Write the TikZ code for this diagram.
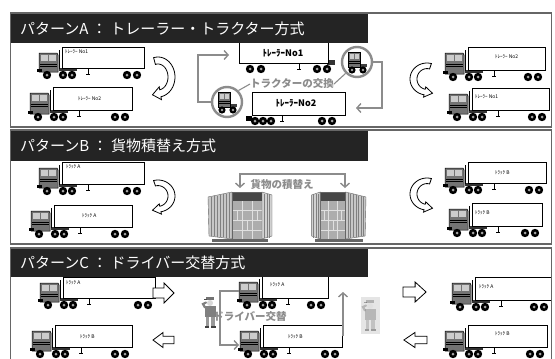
\documentclass[tikz,border=0pt]{standalone}
\usepackage{fontspec}
\newfontfamily\jp{Noto Sans CJK JP}
\usetikzlibrary{arrows.meta,calc}

\tikzset{
  panel/.style={draw=black!60, line width=1.8pt},
  headbar/.style={fill=black!86},
  title/.style={text=white, font=\jp\fontsize{15}{17}\selectfont, anchor=west, inner sep=0},
  box/.style={draw=black, fill=white, line width=0.6pt, inner sep=0, anchor=north west},
  tag/.style={font=\jp\fontsize{5}{6}\selectfont, inner sep=0},
  bigtag/.style={font=\jp\bfseries\fontsize{9}{10}\selectfont, inner sep=0},
  note/.style={text=black!45, font=\jp\bfseries\fontsize{10.5}{12}\selectfont, inner sep=0},
  link/.style={draw=black!45, line width=1.4pt},
  linkarrow/.style={link, -{Straight Barb[length=4pt,width=9pt,line width=1.4pt]}},
  hollow/.style={draw=black, fill=white, line width=0.8pt, line join=miter},
  ring/.style={draw=black!45, line width=2.4pt, circle, minimum size=30pt, inner sep=0},
  cab/.style={fill=black!55, draw=black, line width=0.5pt},
}

% one wheel with its hub
\newcommand\wheelat[2]{\fill[black] (#1,#2) circle (4.2); \fill[black!35] (#1,#2) circle (1.5);}

% tractor-trailer: name, x, y (trailer top-left), width, height, tag, tag offset
\newcommand\rig[7]{%
  \begin{scope}[shift={(#2,#3)}]
    \fill[black!80] (-3,#5) rectangle (15,#5+3);
    \filldraw[cab] (-23,6) -- (-5,6) -- (-4,8) -- (-4,#5+4) -- (-23,#5+4) -- cycle;
    \fill[black!20] (-21.5,8) rectangle (-14.5,14);
    \fill[black!20] (-13,8) rectangle (-6,14);
    \draw[black, line width=0.4pt] (-22,17) -- (-5,17) (-22,19.5) -- (-5,19.5);
    \fill[black] (-25,#5+1) rectangle (-20,#5+4);
    \draw[black, line width=0.9pt] (-2.5,3) -- (-2.5,#5+1);
    \draw[black, line width=0.7pt] (26,#5) -- (26,#5+6) (24,#5+6) -- (28,#5+6);
    \wheelat{-15}{#5+7}
    \wheelat{1}{#5+7}
    \wheelat{10}{#5+7}
    \wheelat{#4-17}{#5+7}
    \wheelat{#4-7}{#5+7}
  \end{scope}
  \node[box, minimum width=#4pt, minimum height=#5pt] (#1) at (#2,#3) {};
  \path (#2,#3) ++(-23,#5/2+4) coordinate (#1-cab);
  \path (#2,#3) ++(#7) node[tag, anchor=west] (#1-t) {#6};
}

% tractor unit alone (shown inside the rings)
\newcommand\tractoricon[2]{%
  \begin{scope}[shift={(#1,#2)}]
    \fill[black!75] (2,2) rectangle (10,5);
    \filldraw[cab] (-9,-10) rectangle (3,5);
    \fill[black!20] (-7.5,-8.5) rectangle (-3,-3.5);
    \fill[black!20] (-2,-8.5) rectangle (1.5,-3.5);
    \draw[black, line width=0.4pt] (-8.5,-1) -- (2.5,-1) (-8.5,1.5) -- (2.5,1.5);
    \fill[black] (-5,8) circle (3.6); \fill[black!35] (-5,8) circle (1.3);
    \fill[black] (6,8) circle (3.6); \fill[black!35] (6,8) circle (1.3);
  \end{scope}}

% curved hollow arrow: centre x, centre y, xscale, yscale
\newcommand\swing[4]{%
  \begin{scope}[shift={(#1,#2)}, xscale=#3, yscale=#4]
    \filldraw[hollow] plot[domain=-105:80, samples=30] ({17*cos(\x)},{20*sin(\x)})
      -- (80:20 and 23) -- (-5.5,17.8) -- (80:7 and 10)
      -- plot[domain=80:-105, samples=30] ({10*cos(\x)},{13*sin(\x)}) -- cycle;
  \end{scope}}

% straight hollow arrow: tail x, centre y, xscale, yscale
\newcommand\blockarrow[4]{%
  \begin{scope}[shift={(#1,#2)}, xscale=#3, yscale=#4]
    \filldraw[hollow] (0,-5) -- (11,-5) -- (11,-10) -- (21,0) -- (11,10) -- (11,5) -- (0,5) -- cycle;
  \end{scope}}

% open container with stacked cargo: x, y, xscale
\newcommand\cargo[3]{%
  \begin{scope}[shift={(#1,#2)}, xscale=#3]
    \filldraw[fill=black!22, draw=black!60, line width=0.4pt] (0,5) -- (24,0) -- (24,47) -- (1,44) -- cycle;
    \foreach \s in {3,6,...,21} \draw[black!50, line width=0.5pt] (\s,{5-\s*5/24+0.6}) -- (\s,{44+\s*3/24-0.6});
    \fill[black!72] (24,0) rectangle (54,9);
    \fill[black!32] (24,9) rectangle (54,47);
    \draw[black!12, line width=0.6pt] (24,18) -- (54,18) (24,28) -- (54,28) (24,38) -- (54,38)
      (34,9) -- (34,47) (44,9) -- (44,47) (29,18) -- (29,28) (39,28) -- (39,38) (49,18) -- (49,28);
    \draw[black!60, line width=0.6pt] (24,0) rectangle (54,47);
    \filldraw[fill=black!18, draw=black!60, line width=0.4pt] (54,0) -- (64,3) -- (64,44) -- (54,47) -- cycle;
    \foreach \s in {56.5,59,61.5} \draw[black!50, line width=0.5pt] (\s,1.5) -- (\s,45.5);
    \fill[black!60] (4,47) rectangle (60,50);
  \end{scope}}

% standing worker: x, y (top centre)
\newcommand\worker[2]{%
  \begin{scope}[shift={(#1,#2)}]
    \fill[black!55] (-4.5,0) rectangle (4,3.2);
    \fill[black!70] (-6,2.4) rectangle (-3,3.4);
    \fill[black!15] (0,6) circle (3);
    \fill[black!50] (-5.5,9) rectangle (5.5,19.5);
    \draw[black!50, line width=2.2pt, line cap=round] (-5,10.5) -- (-7,7) -- (-4,5.5);
    \fill[black!40] (-4.5,19.5) rectangle (-0.6,29);
    \fill[black!40] (0.6,19.5) rectangle (4.5,29);
    \fill[black!75] (-5.5,29) rectangle (-0.6,31);
    \fill[black!75] (0.6,29) rectangle (5.5,31);
  \end{scope}}

\begin{document}
\begin{tikzpicture}[x=1pt,y=-1pt]
\useasboundingbox (0,0) rectangle (555,359);
\fill[white] (0,0) rectangle (555,359);

% ---------- pattern A: trailer / tractor exchange ----------
\rig{trA1}{62}{47}{82}{21}{ﾄﾚｰﾗｰ No1}{3,4.5}
\rig{trA2}{53}{87}{79}{23}{ﾄﾚｰﾗｰ No2}{25,12}
\rig{trA3}{468}{47}{77}{23}{ﾄﾚｰﾗｰ No2}{27,10}
\rig{trA4}{472}{88}{77}{22}{ﾄﾚｰﾗｰ No1}{3,9}
\swing{158}{77}{1}{1}
\swing{427}{79}{-1}{0.8}

% trailers standing without their tractors
\draw[black, line width=0.7pt] (299,63) -- (299,69) (297,69) -- (301,69);
\fill[black!80] (327,60) rectangle (335,65);
\wheelat{250}{69}\wheelat{261}{69}\wheelat{317}{69}\wheelat{327}{69}
\node[box, minimum width=89pt, minimum height=23pt] (midA1) at (239,40) {};
\node[bigtag] (midA1-t) at (283,53) {ﾄﾚｰﾗｰNo1};

\fill[black] (246,116) rectangle (252,121);
\draw[black, line width=0.7pt] (282,115) -- (282,121) (280,121) -- (284,121);
\wheelat{255}{121}\wheelat{263}{121}\wheelat{271}{121}\wheelat{322}{121}\wheelat{332}{121}
\node[box, minimum width=93pt, minimum height=23pt] (midA2) at (252,92) {};
\node[bigtag] (midA2-t) at (296,103) {ﾄﾚｰﾗｰNo2};

% tractors being swapped
\fill[white] (357,62) circle (15);
\fill[white] (227,102) circle (15);
\tractoricon{357}{62}
\tractoricon{227}{102}
\node[ring] (swapR) at (357,62) {};
\node[ring] (swapL) at (227,102) {};
\node[note] (swapnote) at (292,84) {トラクターの交換};
\draw[link, line width=1.1pt] (swapnote.east) -- (swapR.225);
\draw[link, line width=1.1pt] (swapnote.west) -- (swapL.45);
\coordinate (loopL) at (198,55);
\coordinate (loopLend) at (229,55);
\draw[linkarrow] (swapL.west) -| (loopL) -- (loopLend);
\coordinate (loopR) at (382,108);
\coordinate (loopRend) at (356,108);
\draw[linkarrow] (swapR.east) -| (loopR) -- (loopRend);

% ---------- pattern B: cargo transfer ----------
\rig{trB1}{62}{162}{82}{22}{ﾄﾗｯｸ A}{4,5}
\rig{trB2}{54}{205}{78}{22}{ﾄﾗｯｸ A}{28,11}
\rig{trB3}{468}{162}{78}{21}{ﾄﾗｯｸ B}{27,11}
\rig{trB4}{472}{203}{70}{23}{ﾄﾗｯｸ B}{3,10}
\swing{158}{196}{1}{0.8}
\swing{427}{194}{-1}{0.8}
\cargo{208}{192}{1}
\cargo{366}{192}{-0.85}
\coordinate (cargoL) at (240,188);
\coordinate (cargoR) at (345,188);
\coordinate (loadtop) at (292,174);
\draw[link, {Straight Barb[length=4pt,width=9pt,line width=1.4pt]}-{Straight Barb[length=4pt,width=9pt,line width=1.4pt]}]
  (cargoL) |- (loadtop) -| (cargoR);
\node[note] (loadnote) at (282,184) {貨物の積替え};

% ---------- pattern C: driver change ----------
\rig{trC1}{63}{277}{92}{21}{ﾄﾗｯｸ A}{3,6}
\rig{trC2}{55}{325}{77}{22}{ﾄﾗｯｸ B}{25,12}
\rig{trC3}{262}{276}{66}{22}{ﾄﾗｯｸ A}{8,9}
\rig{trC4}{263}{325}{79}{22}{ﾄﾗｯｸ B}{25,12}
\rig{trC5}{475}{277}{76}{23}{ﾄﾗｯｸ A}{4,10}
\rig{trC6}{468}{325}{79}{22}{ﾄﾗｯｸ B}{27,9}
\blockarrow{153}{293}{1}{1}
\blockarrow{174}{340}{-1}{0.75}
\blockarrow{403}{292}{1.1}{1}
\blockarrow{427}{340}{-1.1}{0.75}

\worker{210}{297}
\fill[black!10] (361,297) rectangle (380,334);
\begin{scope}[opacity=0.45]
  \worker{370}{300}
\end{scope}
\coordinate (drvloop) at (220,345);
\coordinate (drvIn) at (239,345);
\draw[linkarrow] (trC3-cab) -| (drvloop) -- (drvIn);
\node[note] (drvnote) at (250,317) {ドライバー交替};
\coordinate (upTop) at (343,292);
\draw[linkarrow] (trC4.east -| upTop) -- (upTop);

% ---------- headers and frames ----------
\fill[headbar] (11,13) rectangle (368,43);
\node[title] (ttlA) at (20,28.5) {パターンA ： トレーラー・トラクター方式};
\draw[panel] (10.5,13) rectangle (551.5,127);

\fill[headbar] (11,130) rectangle (368,161);
\node[title] (ttlB) at (20,146) {パターンB ： 貨物積替え方式};
\draw[panel] (10.5,130) rectangle (551.5,244);

\fill[headbar] (11,248) rectangle (368,277);
\node[title] (ttlC) at (20,263) {パターンC ： ドライバー交替方式};
\draw[panel] (10.5,248) rectangle (551.5,372);
\end{tikzpicture}
\end{document}
